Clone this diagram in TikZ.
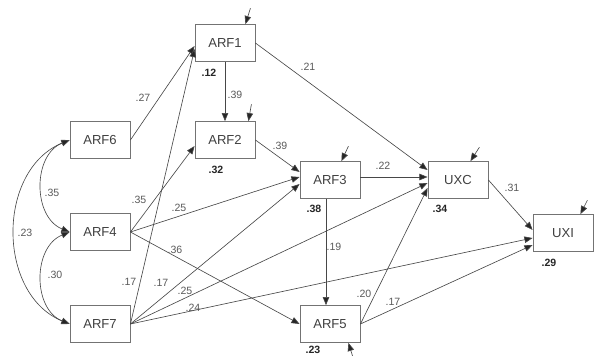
\documentclass[tikz,border=0pt]{standalone}
\usepackage{fontspec}
\setmainfont{Liberation Sans}
\usetikzlibrary{arrows.meta,calc}

\begin{document}
\begin{tikzpicture}[x=0.025cm, y=-0.025cm, >={Triangle[length=5.8pt,width=4.6pt,fill=black!85]},
  box/.style={draw=black!55, line width=0.6pt, minimum width=1.5cm, minimum height=0.92cm,
    inner sep=0pt, text=black!75, font=\fontsize{9.3}{10}\selectfont},
  path/.style={->, draw=black!72, line width=0.45pt},
  cov/.style={<->, draw=black!72, line width=0.45pt},
  coef/.style={text=black!65, inner sep=0pt, font=\fontsize{7.5}{8}\selectfont},
  rsq/.style={text=black!85, inner sep=0pt, font=\bfseries\fontsize{7.5}{8}\selectfont}]
  \useasboundingbox (0,0) rectangle (594,356);
  % observed variables
  \foreach \n/\x/\y in {ARF1/225/43, ARF2/225/140, ARF6/100/140, ARF4/100/232, ARF7/100/324,
    ARF3/330/180, UXC/458/180, UXI/563/233, ARF5/330/324}
    \node[box] (\n) at (\x,\y) {\n};
  % correlations of the exogenous ones
  \draw[cov] (ARF6.west) .. controls +(-37,15) and +(-37,-15) .. (ARF4.west);
  \draw[cov] (ARF4.west) .. controls +(-37,15) and +(-37,-15) .. (ARF7.west);
  \draw[cov] (ARF6.west) .. controls +(-73,30) and +(-73,-30) .. (ARF7.west);
  % direct paths
  \draw[path] (ARF6.east) -- ($(ARF1.west)+(0,3)$);
  \draw[path] (ARF7.east) -- ($(ARF1.west)+(0,6)$);
  \draw[path] (ARF1) -- (ARF2);
  \draw[path] (ARF1.east) -- ($(UXC.west)+(0,-10)$);
  \draw[path] (ARF4.east) -- ($(ARF2.west)+(0,6)$);
  \draw[path] (ARF2.east) -- ($(ARF3.west)+(0,-8)$);
  \draw[path] (ARF4.east) -- ($(ARF3.west)+(0,-3)$);
  \draw[path] (ARF7.east) -- ($(ARF3.west)+(0,4)$);
  \draw[path] (ARF4.east) -- (ARF5.west);
  \draw[path] (ARF7.east) -- ($(UXC.west)+(0,3)$);
  \draw[path] (ARF7.east) -- ($(UXI.west)+(0,5)$);
  \draw[path] ($(ARF3.east)+(0,-3)$) -- ($(UXC.west)+(0,-3)$);
  \draw[path] ($(ARF3.south)+(-4,0)$) -- ($(ARF5.north)+(-4,0)$);
  \draw[path] (ARF5.east) -- ($(UXC.west)+(0,8)$);
  \draw[path] (ARF5.east) -- ($(UXI.west)+(0,12)$);
  \draw[path] (UXC.east) -- ($(UXI.west)+(0,-3)$);
  % error terms
  \foreach \n/\dx/\ex/\ey in {ARF1/-10/5/-16, ARF2/-7/3/-17, ARF3/-19/7/-15, UXC/-18/9/-14, UXI/-13/7/-14} {
    \coordinate (e\n) at ($(\n.north east)+(\dx,0)+(\ex,\ey)$);
    \draw[path] (e\n) -- ($(\n.north east)+(\dx,0)$);
  }
  \coordinate (eARF5) at ($(ARF5.south east)+(-7,16)$);
  \draw[path] (eARF5) -- ($(ARF5.south east)+(-12,0)$);
  % coefficients
  \foreach \l/\x/\y [count=\i] in {.27/143/98, .39/235/95, .21/308/67, .39/280/146, .35/139/200,
    .25/179/208, .36/175/250, .17/129/282, .17/161/283, .25/185/291, .24/193/308, .22/383/166,
    .19/334/247, .20/364/294, .17/393/302, .31/512/188, .35/52/193, .30/55/275, .23/25/233}
    \node[coef] (c\i) at (\x,\y) {\l};
  % squared multiple correlations
  \foreach \l/\x/\y [count=\i] in {.12/209/73, .32/216/170, .38/314/209, .34/440/209, .29/549/263, .23/313/350}
    \node[rsq] (r\i) at (\x,\y) {\l};
\end{tikzpicture}
\end{document}
